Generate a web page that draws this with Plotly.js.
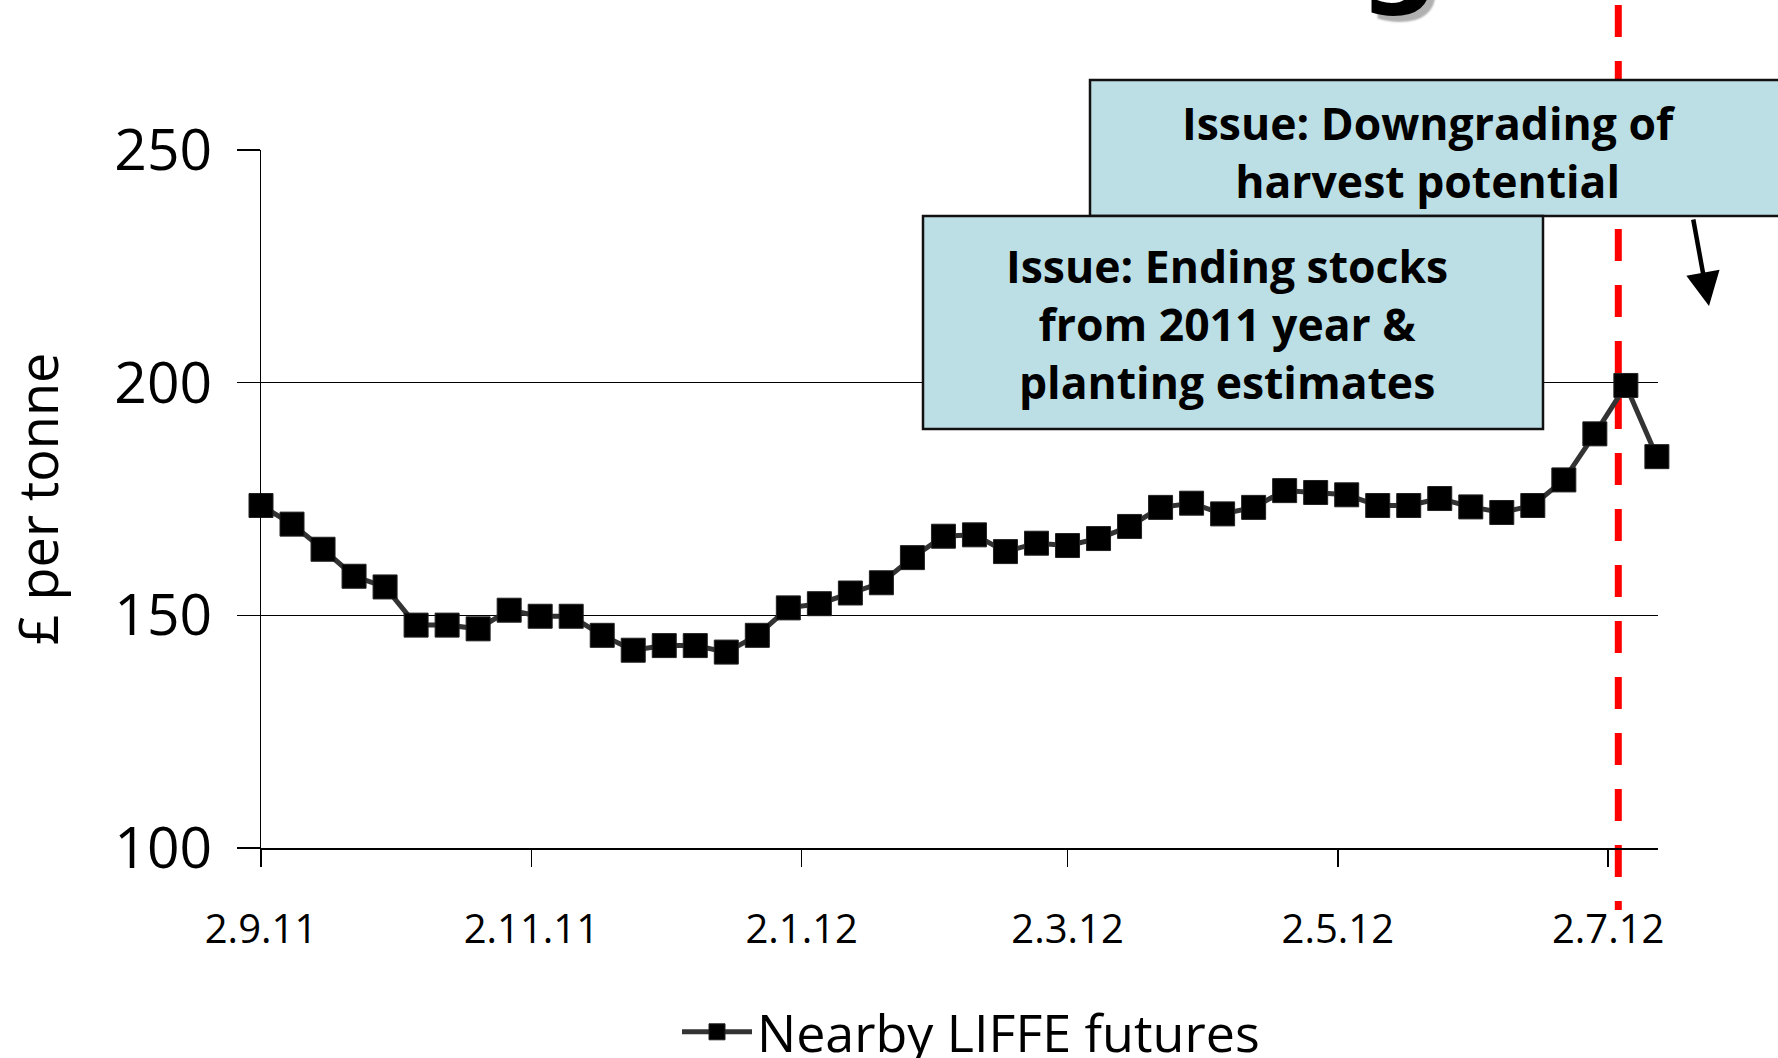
<!DOCTYPE html>
<html>
<head>
<meta charset="utf-8">
<script src="https://cdn.plot.ly/plotly-3.0.1.min.js"></script>
<style>html,body{margin:0;padding:0;background:#fff;}#chart{width:1778px;height:1058px;}</style>
</head>
<body>
<div id="chart"></div>
<script>
// ---- data ----
const weekDates = [
  '2011-09-02','2011-09-09','2011-09-16','2011-09-23','2011-09-30',
  '2011-10-07','2011-10-14','2011-10-21','2011-10-28',
  '2011-11-04','2011-11-11','2011-11-18','2011-11-25',
  '2011-12-02','2011-12-09','2011-12-16','2011-12-23','2011-12-30',
  '2012-01-06','2012-01-13','2012-01-20','2012-01-27',
  '2012-02-03','2012-02-10','2012-02-17','2012-02-24',
  '2012-03-02','2012-03-09','2012-03-16','2012-03-23','2012-03-30',
  '2012-04-06','2012-04-13','2012-04-20','2012-04-27',
  '2012-05-04','2012-05-11','2012-05-18','2012-05-25',
  '2012-06-01','2012-06-08','2012-06-15','2012-06-22','2012-06-29',
  '2012-07-06','2012-07-13'
];
const nearbyLiffe = [
  173.6,169.6,164.2,158.4,156.1,147.9,147.9,147.1,151.1,149.8,
  149.8,145.7,142.5,143.5,143.5,142.1,145.7,151.6,152.5,154.8,
  157.0,162.4,167.0,167.3,163.7,165.5,165.0,166.5,169.1,173.2,
  174.1,171.8,173.2,176.8,176.4,175.9,173.6,173.6,175.1,173.3,
  172.1,173.6,179.1,189.0,199.4,184.1
];
const seriesName = 'Nearby LIFFE futures';
const xTickVals = ['2011-09-02','2011-11-02','2012-01-02','2012-03-02','2012-05-02','2012-07-02'];
const xTickText = ['2.9.11','2.11.11','2.1.12','2.3.12','2.5.12','2.7.12'];
const yTickVals = [100,150,200,250];
const yTitle = '£ per tonne';
const eventDate = '2012-07-04 07:00';
const issue1 = 'Issue: Downgrading of<br>harvest potential';
const issue2 = 'Issue: Ending stocks<br>from 2011 year &amp;<br>planting estimates';

// ---- layout helpers (pixel -> paper) ----
const L = 261, R = 1658, T = 150, B = 848;
const px = x => (x - L) / (R - L);
const py = y => (B - y) / (B - T);

const trace = {
  type: 'scatter', mode: 'lines+markers', name: seriesName,
  x: weekDates, y: nearbyLiffe, cliponaxis: false,
  line: {color: '#333333', width: 5},
  marker: {symbol: 'square', size: 24, color: '#000000', line: {color: '#222', width: 1}},
  hoverinfo: 'skip'
};

const boxFill = '#BCDFE5';
const layout = {
  width: 1778, height: 1058,
  paper_bgcolor: '#ffffff', plot_bgcolor: '#ffffff',
  margin: {l: L, r: 1778 - R, t: T, b: 1058 - B, autoexpand: false},
  font: {family: 'Open Sans, Noto Sans, sans-serif', color: '#000'},
  showlegend: true,
  legend: {
    orientation: 'h', x: px(971), xanchor: 'center', y: py(1032), yanchor: 'middle',
    itemwidth: 70, itemsizing: 'trace',
    font: {size: 52, family: 'Open Sans, sans-serif'}, bgcolor: 'rgba(0,0,0,0)'
  },
  xaxis: {
    type: 'date', range: ['2011-09-02', '2012-07-13 06:00'],
    tickmode: 'array', tickvals: xTickVals, ticktext: xTickText,
    ticks: 'outside', ticklen: 17, tickwidth: 1.5, tickcolor: '#000',
    ticklabelstandoff: 28,
    tickfont: {size: 40, family: 'Open Sans, sans-serif'},
    showline: true, linecolor: '#000', linewidth: 2,
    showgrid: false, zeroline: false, automargin: false, fixedrange: true
  },
  yaxis: {
    range: [100, 250], tickmode: 'array', tickvals: yTickVals,
    ticks: 'outside', ticklen: 23, tickwidth: 1.5, tickcolor: '#000',
    ticklabelstandoff: 13,
    tickfont: {size: 57, family: 'Open Sans, sans-serif'},
    showline: true, linecolor: '#000', linewidth: 1.5,
    showgrid: true, gridcolor: '#000', gridwidth: 1.4,
    zeroline: false, automargin: false, fixedrange: true,
    title: {text: yTitle, font: {size: 54, family: 'Open Sans, sans-serif'}, standoff: 74}
  },
  shapes: [
    {type: 'line', layer: 'below', xref: 'x', yref: 'paper',
     x0: eventDate, x1: eventDate, y0: py(5), y1: py(910),
     line: {color: '#FF0000', width: 7, dash: '32px,24px'}},
    {type: 'rect', layer: 'above', xref: 'paper', yref: 'paper',
     x0: px(1090), x1: px(1800), y0: py(216), y1: py(80),
     fillcolor: boxFill, line: {color: '#111', width: 2.5}},
    {type: 'rect', layer: 'above', xref: 'paper', yref: 'paper',
     x0: px(923), x1: px(1543), y0: py(429), y1: py(216),
     fillcolor: boxFill, line: {color: '#111', width: 2.5}}
  ],
  annotations: [
    {xref: 'paper', yref: 'paper', x: px(1429), y: py(151), xanchor: 'center', yanchor: 'middle',
     text: issue1, showarrow: false, align: 'center',
     font: {size: 44.5, family: 'Open Sans, sans-serif', weight: 'bold', color: '#000'}},
    {xref: 'paper', yref: 'paper', x: px(1227), y: py(323), xanchor: 'center', yanchor: 'middle',
     text: issue2, showarrow: false, align: 'center',
     font: {size: 44.5, family: 'Open Sans, sans-serif', weight: 'bold', color: '#000'}},
    {xref: 'paper', yref: 'paper', x: px(1709), y: py(306), axref: 'pixel', ayref: 'pixel',
     ax: -16, ay: -88, text: '', showarrow: true, arrowhead: 2, arrowsize: 1.5,
     arrowwidth: 4.5, arrowcolor: '#000'},
    {xref: 'paper', yref: 'paper', x: px(1399), y: py(20), xanchor: 'center', yanchor: 'bottom',
     text: 'g', showarrow: false,
     font: {size: 112, family: 'DejaVu Sans, sans-serif', weight: 'bold', color: '#000',
            shadow: '6px 6px 2px #b0b0b0'}}
  ]
};

Plotly.newPlot('chart', [trace], layout, {displayModeBar: false, staticPlot: true});
</script>
</body>
</html>
